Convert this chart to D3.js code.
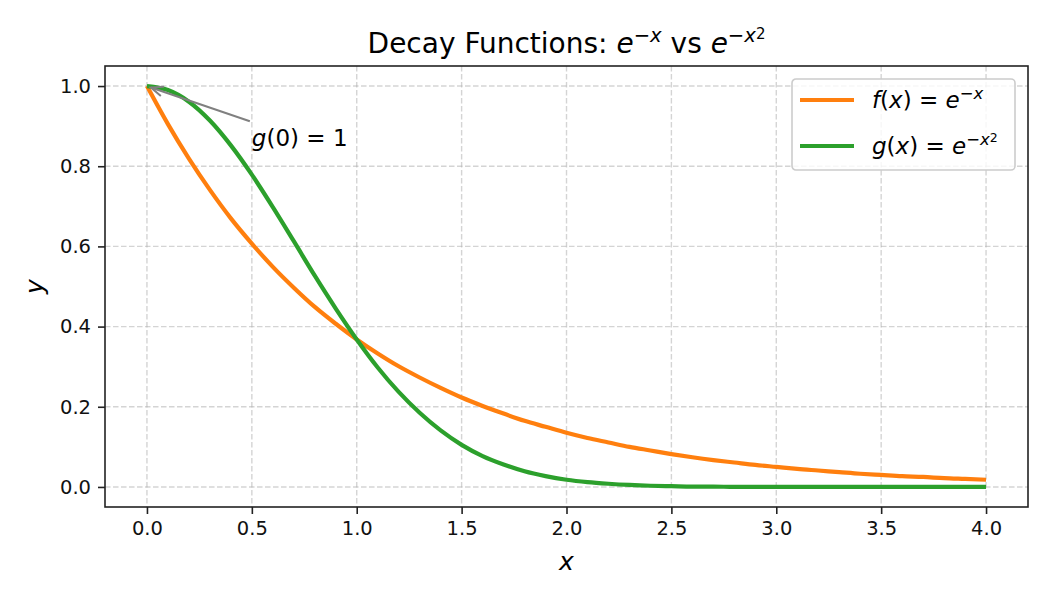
<!DOCTYPE html>
<html>
<head>
<meta charset="utf-8">
<script src="https://cdn.jsdelivr.net/npm/d3@7"></script>
<style>
  body { margin: 0; background: #fff; }
  svg { font-family: "DejaVu Sans", sans-serif; }
</style>
</head>
<body>
<svg id="chart" width="1050" height="600"></svg>
<script>
// sample points
const xs = [0.0, 0.1, 0.2, 0.3, 0.4, 0.5, 0.6, 0.7, 0.8, 0.9,
            1.0, 1.1, 1.2, 1.3, 1.4, 1.5, 1.6, 1.7, 1.8, 1.9,
            2.0, 2.1, 2.2, 2.3, 2.4, 2.5, 2.6, 2.7, 2.8, 2.9,
            3.0, 3.1, 3.2, 3.3, 3.4, 3.5, 3.6, 3.7, 3.8, 3.9, 4.0];
const fValues = [1.000, 0.905, 0.819, 0.741, 0.670, 0.607, 0.549, 0.497, 0.449, 0.407,
                 0.368, 0.333, 0.301, 0.273, 0.247, 0.223, 0.202, 0.183, 0.165, 0.150,
                 0.135, 0.122, 0.111, 0.100, 0.091, 0.082, 0.074, 0.067, 0.061, 0.055,
                 0.050, 0.045, 0.041, 0.037, 0.033, 0.030, 0.027, 0.025, 0.022, 0.020, 0.018];
const gValues = [1.000, 0.990, 0.961, 0.914, 0.852, 0.779, 0.698, 0.613, 0.527, 0.445,
                 0.368, 0.298, 0.237, 0.185, 0.141, 0.105, 0.077, 0.056, 0.039, 0.027,
                 0.018, 0.012, 0.008, 0.005, 0.003, 0.002, 0.001, 0.001, 0.000, 0.000,
                 0.000, 0.000, 0.000, 0.000, 0.000, 0.000, 0.000, 0.000, 0.000, 0.000, 0.000];
const xTicks = [0.0, 0.5, 1.0, 1.5, 2.0, 2.5, 3.0, 3.5, 4.0];
const yTicks = [0.0, 0.2, 0.4, 0.6, 0.8, 1.0];
const annotPoint = [0, 1];
const annotText = [0.5, 0.85];

const width = 1050, height = 600;
const marginTop = 66, marginRight = 22, marginBottom = 93, marginLeft = 105;

const svg = d3.select("#chart");

const x = d3.scaleLinear()
  .domain([-0.2, 4.2])
  .range([marginLeft, width - marginRight]);

const y = d3.scaleLinear()
  .domain([-0.05, 1.05])
  .range([height - marginBottom, marginTop]);

// grid
const grid = svg.append("g")
  .attr("stroke", "#b0b0b0")
  .attr("stroke-opacity", 0.55)
  .attr("stroke-width", 1.4)
  .attr("stroke-dasharray", "5.5,2.5");

grid.selectAll(".gx")
  .data(xTicks)
  .join("line")
  .attr("x1", d => x(d)).attr("x2", d => x(d))
  .attr("y1", marginTop).attr("y2", height - marginBottom);

grid.selectAll(".gy")
  .data(yTicks)
  .join("line")
  .attr("y1", d => y(d)).attr("y2", d => y(d))
  .attr("x1", marginLeft).attr("x2", width - marginRight);

// curves
const line = d3.line()
  .x((d, i) => x(xs[i]))
  .y(d => y(d))
  .curve(d3.curveMonotoneX);

svg.append("path")
  .attr("fill", "none")
  .attr("stroke", "#ff7f0e")
  .attr("stroke-width", 4.2)
  .attr("d", line(fValues));

svg.append("path")
  .attr("fill", "none")
  .attr("stroke", "#2ca02c")
  .attr("stroke-width", 4.2)
  .attr("d", line(gValues));

// axes
const xAxis = d3.axisBottom(x).tickValues(xTicks).tickFormat(d3.format(".1f")).tickSizeOuter(0).tickSize(7).tickPadding(7);
const yAxis = d3.axisLeft(y).tickValues(yTicks).tickFormat(d3.format(".1f")).tickSizeOuter(0).tickSize(7).tickPadding(7);

const gx = svg.append("g")
  .attr("transform", `translate(0,${height - marginBottom})`)
  .call(xAxis);
const gy = svg.append("g")
  .attr("transform", `translate(${marginLeft},0)`)
  .call(yAxis);

[gx, gy].forEach(g => {
  g.select(".domain").remove();
  g.selectAll(".tick line").attr("stroke", "#222").attr("stroke-width", 1.6);
  g.selectAll(".tick text").attr("fill", "#111").style("font-size", "19.5px").style("font-family", "DejaVu Sans");
});

// spines
svg.append("rect")
  .attr("x", marginLeft).attr("y", marginTop)
  .attr("width", width - marginLeft - marginRight)
  .attr("height", height - marginTop - marginBottom)
  .attr("fill", "none")
  .attr("stroke", "#222")
  .attr("stroke-width", 1.6);

// mathtext-ish labels: each part may be italic, smaller and raised (dy keeps one text chunk)
function mathText(sel, parts) {
  let cur = 0;
  parts.forEach(p => {
    const up = p.up || 0;
    const t = sel.append("tspan").text(p.t);
    if (up !== cur) t.attr("dy", cur - up);
    cur = up;
    if (p.i) t.attr("font-style", "italic");
    if (p.size) t.attr("font-size", p.size);
  });
}

// title
const title = svg.append("text")
  .attr("x", (marginLeft + width - marginRight) / 2)
  .attr("y", 53)
  .attr("text-anchor", "middle")
  .attr("font-size", 28)
  .attr("fill", "#000");
mathText(title, [
  { t: "Decay Functions: " },
  { t: "e", i: true },
  { t: "\u2212x", i: true, size: 19.6, up: 11 },
  { t: " vs " },
  { t: "e", i: true },
  { t: "\u2212x", i: true, size: 19.6, up: 11 },
  { t: "2", size: 15, up: 14 }
]);

// axis labels
svg.append("text")
  .attr("x", (marginLeft + width - marginRight) / 2)
  .attr("y", 570)
  .attr("text-anchor", "middle")
  .attr("font-size", 25)
  .attr("font-style", "italic")
  .text("x");

svg.append("text")
  .attr("transform", `translate(43,${(marginTop + height - marginBottom) / 2}) rotate(-90)`)
  .attr("text-anchor", "middle")
  .attr("font-size", 25)
  .attr("font-style", "italic")
  .text("y");

// annotation
const ax0 = x(annotText[0]) - 2, ay0 = y(annotText[1]) - 25;
const tipX = x(annotPoint[0]) + 4, tipY = y(annotPoint[1]) + 1.5;
const ang = Math.atan2(ay0 - tipY, ax0 - tipX);
const headLen = 13, headW = 0.38;
svg.append("line")
  .attr("x1", ax0).attr("y1", ay0)
  .attr("x2", tipX).attr("y2", tipY)
  .attr("stroke", "#808080").attr("stroke-width", 2);
svg.append("path")
  .attr("d", `M${tipX + headLen * Math.cos(ang + headW)},${tipY + headLen * Math.sin(ang + headW)}
              L${tipX},${tipY}
              L${tipX + headLen * Math.cos(ang - headW)},${tipY + headLen * Math.sin(ang - headW)}`)
  .attr("fill", "none")
  .attr("stroke", "#808080").attr("stroke-width", 2);

const ann = svg.append("text")
  .attr("x", x(annotText[0]))
  .attr("y", y(annotText[1]))
  .attr("font-size", 23)
  .attr("fill", "#000");
mathText(ann, [{ t: "g", i: true }, { t: "(0) = 1" }]);

// legend
const legend = svg.append("g").attr("transform", "translate(792,79)");
legend.append("rect")
  .attr("width", 223).attr("height", 91)
  .attr("rx", 4)
  .attr("fill", "#fff").attr("fill-opacity", 0.8)
  .attr("stroke", "#cccccc").attr("stroke-width", 1.6);

const legendItems = [
  { color: "#ff7f0e", parts: [{ t: "f", i: true }, { t: "(" }, { t: "x", i: true }, { t: ") = " }, { t: "e", i: true }, { t: "\u2212x", i: true, size: 16.5, up: 9 }] },
  { color: "#2ca02c", parts: [{ t: "g", i: true }, { t: "(" }, { t: "x", i: true }, { t: ") = " }, { t: "e", i: true }, { t: "\u2212x", i: true, size: 16.5, up: 9 }, { t: "2", size: 12.5, up: 12 }] }
];

legendItems.forEach((d, i) => {
  const row = legend.append("g").attr("transform", `translate(0,${21 + i * 46})`);
  row.append("line")
    .attr("x1", 8).attr("x2", 62)
    .attr("stroke", d.color).attr("stroke-width", 4.2);
  const t = row.append("text")
    .attr("x", 80)
    .attr("y", 8)
    .attr("font-size", 23)
    .attr("fill", "#000");
  mathText(t, d.parts);
});
</script>
</body>
</html>
